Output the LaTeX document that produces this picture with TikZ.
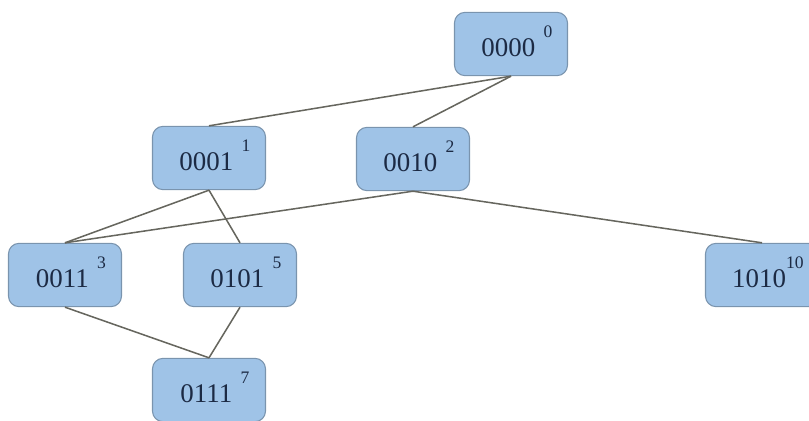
\documentclass[tikz,border=0pt]{standalone}
\usepackage{fontspec}
\setmainfont{Liberation Serif}
\usepackage{xcolor}
\usetikzlibrary{positioning}
\definecolor{latfill}{HTML}{9FC3E7}
\definecolor{latdraw}{HTML}{7A94AE}
\definecolor{lattext}{HTML}{1C2A44}
\definecolor{latedge}{HTML}{66665E}
\newcommand{\lbl}[3][7pt]{\hspace{10pt}#2\hspace{#1}\smash{\raisebox{16pt}{\fontsize{15}{15}\selectfont #3}}}

\begin{document}
\begin{tikzpicture}[
    x=0.03cm, y=-0.03cm,
    state/.style={draw=latdraw, fill=latfill, rounded corners=9pt, line width=0.9pt,
                  minimum width=3.39cm, minimum height=1.9cm, inner sep=0pt,
                  text height=0.72cm, text depth=0pt,
                  text=lattext, font=\fontsize{23}{23}\selectfont},
    link/.style={draw=latedge, line width=1.3pt},
]
\useasboundingbox (0,0) rectangle (809,421);
\node[state] (n0) at (511,44) {\lbl{0000}{0}};
\node[state] (n1) at (209,158) {\lbl{0001}{1}};
\node[state] (n2) at (413,159) {\lbl{0010}{2}};
\node[state] (n3) at (65,275) {\lbl{0011}{3}};
\node[state] (n5) at (240,275) {\lbl{0101}{5}};
\node[state] (n10) at (762,275) {\lbl[0pt]{1010}{10}};
\node[state] (n7) at (209,390) {\lbl{0111}{7}};
\draw[link] (n0.south) -- (n1.north);
\draw[link] (n0.south) -- (n2.north);
\draw[link] (n1.south) -- (n3.north);
\draw[link] (n1.south) -- (n5.north);
\draw[link] (n2.south) -- (n3.north);
\draw[link] (n2.south) -- (n10.north);
\draw[link] (n3.south) -- (n7.north);
\draw[link] (n5.south) -- (n7.north);
\end{tikzpicture}
\end{document}
